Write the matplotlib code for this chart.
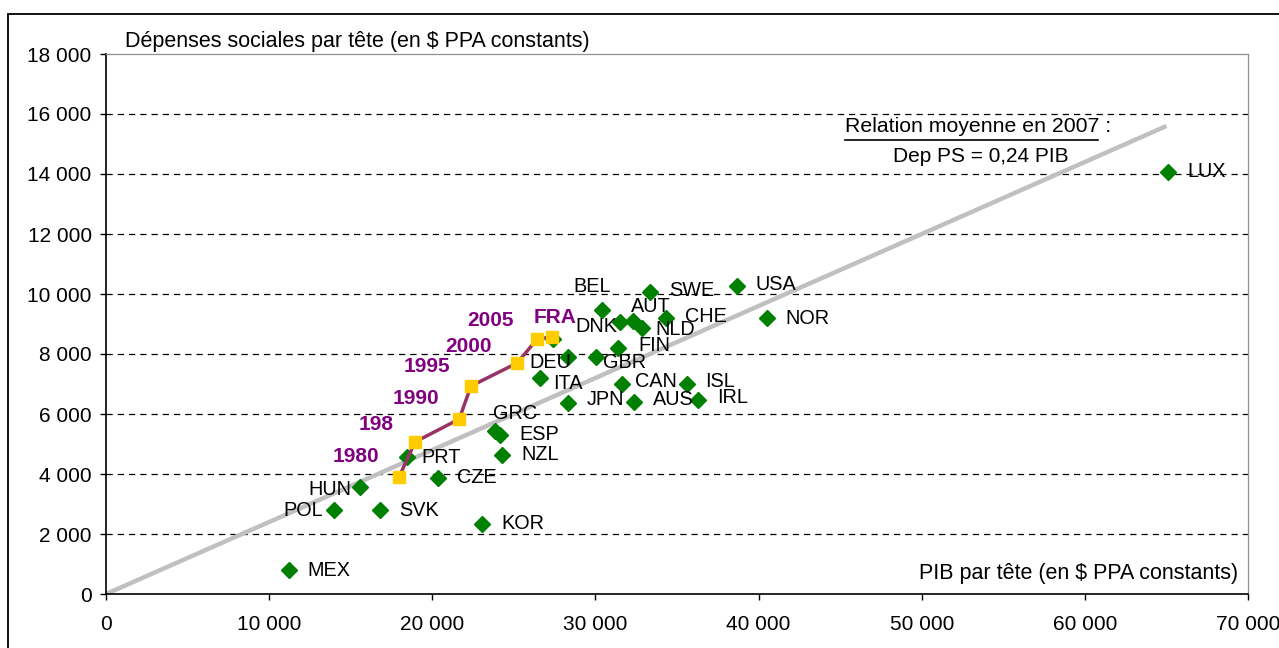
import numpy as np
import matplotlib.pyplot as plt
from matplotlib.patches import Rectangle
from matplotlib.ticker import FuncFormatter

plt.rcParams['font.family'] = ['Liberation Sans', 'DejaVu Sans']

# données 2007 par pays : PIB par tête, dépenses sociales par tête
pays = ['MEX', 'POL', 'HUN', 'SVK', 'PRT', 'CZE', 'KOR', 'NZL', 'GRC', 'ESP',
        'ITA', 'DEU', 'BEL', 'DNK', 'AUT', 'NLD', 'SWE', 'CHE', 'FIN', 'GBR',
        'CAN', 'ISL', 'JPN', 'AUS', 'IRL', 'USA', 'NOR', 'LUX', 'FRA_pt']
pib = [11220, 13980, 15570, 16800, 18450, 20360, 23050, 24280, 23850, 24160,
       26610, 28330, 30410, 31510, 32310, 32860, 33350, 34330, 31390, 30040,
       31640, 35620, 28330, 32370, 36300, 38690, 40530, 65110, 27410]
dep = [800, 2800, 3570, 2800, 4570, 3870, 2330, 4630, 5430, 5300,
       7200, 7900, 9470, 9070, 9100, 8870, 10070, 9200, 8200, 7900,
       7000, 7000, 6370, 6400, 6470, 10270, 9200, 14070, 8500]

# trajectoire de la France
fra_annees = ['1980', '198', '1990', '1995', '2000', '2005', 'FRA']
fra_pib = [17960, 18950, 21650, 22370, 25200, 26430, 27350]
fra_dep = [3900, 5070, 5830, 6930, 7700, 8500, 8570]

# relation moyenne
pente = 0.24
pib_max_droite = 65000

# décalages des étiquettes (pixels, bord gauche du texte)
decal = {'MEX': (18, 0), 'POL': (-51, 0), 'HUN': (-52, 3), 'SVK': (19, 0),
         'PRT': (14, 1), 'CZE': (19, 0), 'KOR': (19, -1), 'NZL': (19, -1),
         'GRC': (-2, -18), 'ESP': (19, -1), 'ITA': (13, 6), 'DEU': (-39, 6),
         'BEL': (-29, -23), 'DNK': (-45, 5), 'AUT': (-2, -14), 'NLD': (13, 2),
         'SWE': (19, -1), 'CHE': (19, -2), 'FIN': (20, -2), 'GBR': (7, 6),
         'CAN': (13, -2), 'ISL': (18, -2), 'JPN': (18, -3), 'AUS': (19, -2),
         'IRL': (19, -2), 'USA': (18, -1), 'NOR': (18, 0), 'LUX': (19, 0)}
decal_fra = [(-66, -21), (-57, -17), (-67, -21), (-67, -20), (-72, -16),
             (-70, -18), (-19, -19)]

fig = plt.figure(figsize=(12.79, 6.48), dpi=100)
ax = fig.add_axes([106 / 1279, 1 - 594 / 648, 1142 / 1279, 540 / 648])

ax.set_xlim(0, 70000)
ax.set_ylim(0, 18000)
ax.set_xticks(np.arange(0, 70001, 10000))
ax.set_yticks(np.arange(0, 18001, 2000))
fmt = FuncFormatter(lambda v, p: f'{int(v):,}'.replace(',', ' '))
ax.xaxis.set_major_formatter(fmt)
ax.yaxis.set_major_formatter(fmt)
ax.tick_params(axis='both', direction='out', length=4.3, width=1, color='black',
               labelsize=15)
ax.tick_params(axis='y', pad=6)
ax.tick_params(axis='x', pad=11)

for y in np.arange(2000, 17000, 2000):
    ax.axhline(y, color='black', lw=0.9, ls=(0, (5, 4)), zorder=1)

for s in ['left', 'bottom']:
    ax.spines[s].set_color('black')
    ax.spines[s].set_linewidth(1.2)
for s in ['top', 'right']:
    ax.spines[s].set_color('#909090')
    ax.spines[s].set_linewidth(0.9)

# droite de régression
xs = np.array([0, pib_max_droite])
ax.plot(xs, pente * xs, color='#C0C0C0', lw=3.2, solid_capstyle='butt', zorder=2)

# points pays
ax.plot(pib, dep, ls='none', marker='D', ms=8, color='#008000', zorder=4)

px2pt = 0.72
for nom, x, y in zip(pays, pib, dep):
    if nom not in decal:
        continue
    dx, dy = decal[nom]
    ax.annotate(nom, (x, y), xytext=(dx * px2pt, -dy * px2pt),
                textcoords='offset points', ha='left', va='center',
                fontsize=14.3, color='black', zorder=5)

# trajectoire France
ax.plot(fra_pib, fra_dep, color='#993366', lw=2.5, zorder=5)
ax.plot(fra_pib, fra_dep, ls='none', marker='s', ms=8, color='#FFCC00', zorder=6)
for lab, x, y, (dx, dy) in zip(fra_annees, fra_pib, fra_dep, decal_fra):
    ax.annotate(lab, (x, y), xytext=(dx * px2pt, -dy * px2pt),
                textcoords='offset points', ha='left', va='center',
                fontsize=15, fontweight='bold', color='#800080', zorder=7)

# titres d'axes
fig.text(125 / 1279, 1 - 42 / 648, 'Dépenses sociales par tête (en $ PPA constants)',
         fontsize=15.5, ha='left', va='center')
fig.text(1238 / 1279, 1 - 573 / 648, 'PIB par tête (en $ PPA constants)',
         fontsize=15.5, ha='right', va='center')

# annotation relation moyenne
fig.text(845 / 1279, 1 - 127 / 648, 'Relation moyenne en 2007 :',
         fontsize=15.3, ha='left', va='center')
ax.plot([845 / 1279, 1098 / 1279], [1 - 140 / 648, 1 - 140 / 648],
        transform=fig.transFigure, color='black', lw=1.2, clip_on=False)
fig.text(893 / 1279, 1 - 157 / 648, 'Dep PS = 0,24 PIB',
         fontsize=15, ha='left', va='center')

# cadre extérieur
fig.add_artist(Rectangle((8 / 1279, -0.05), 1.1, 1 - 14 / 648 + 0.05,
                         transform=fig.transFigure, fill=False,
                         edgecolor='black', lw=1.3))

fig.savefig('out.png', dpi=100)
